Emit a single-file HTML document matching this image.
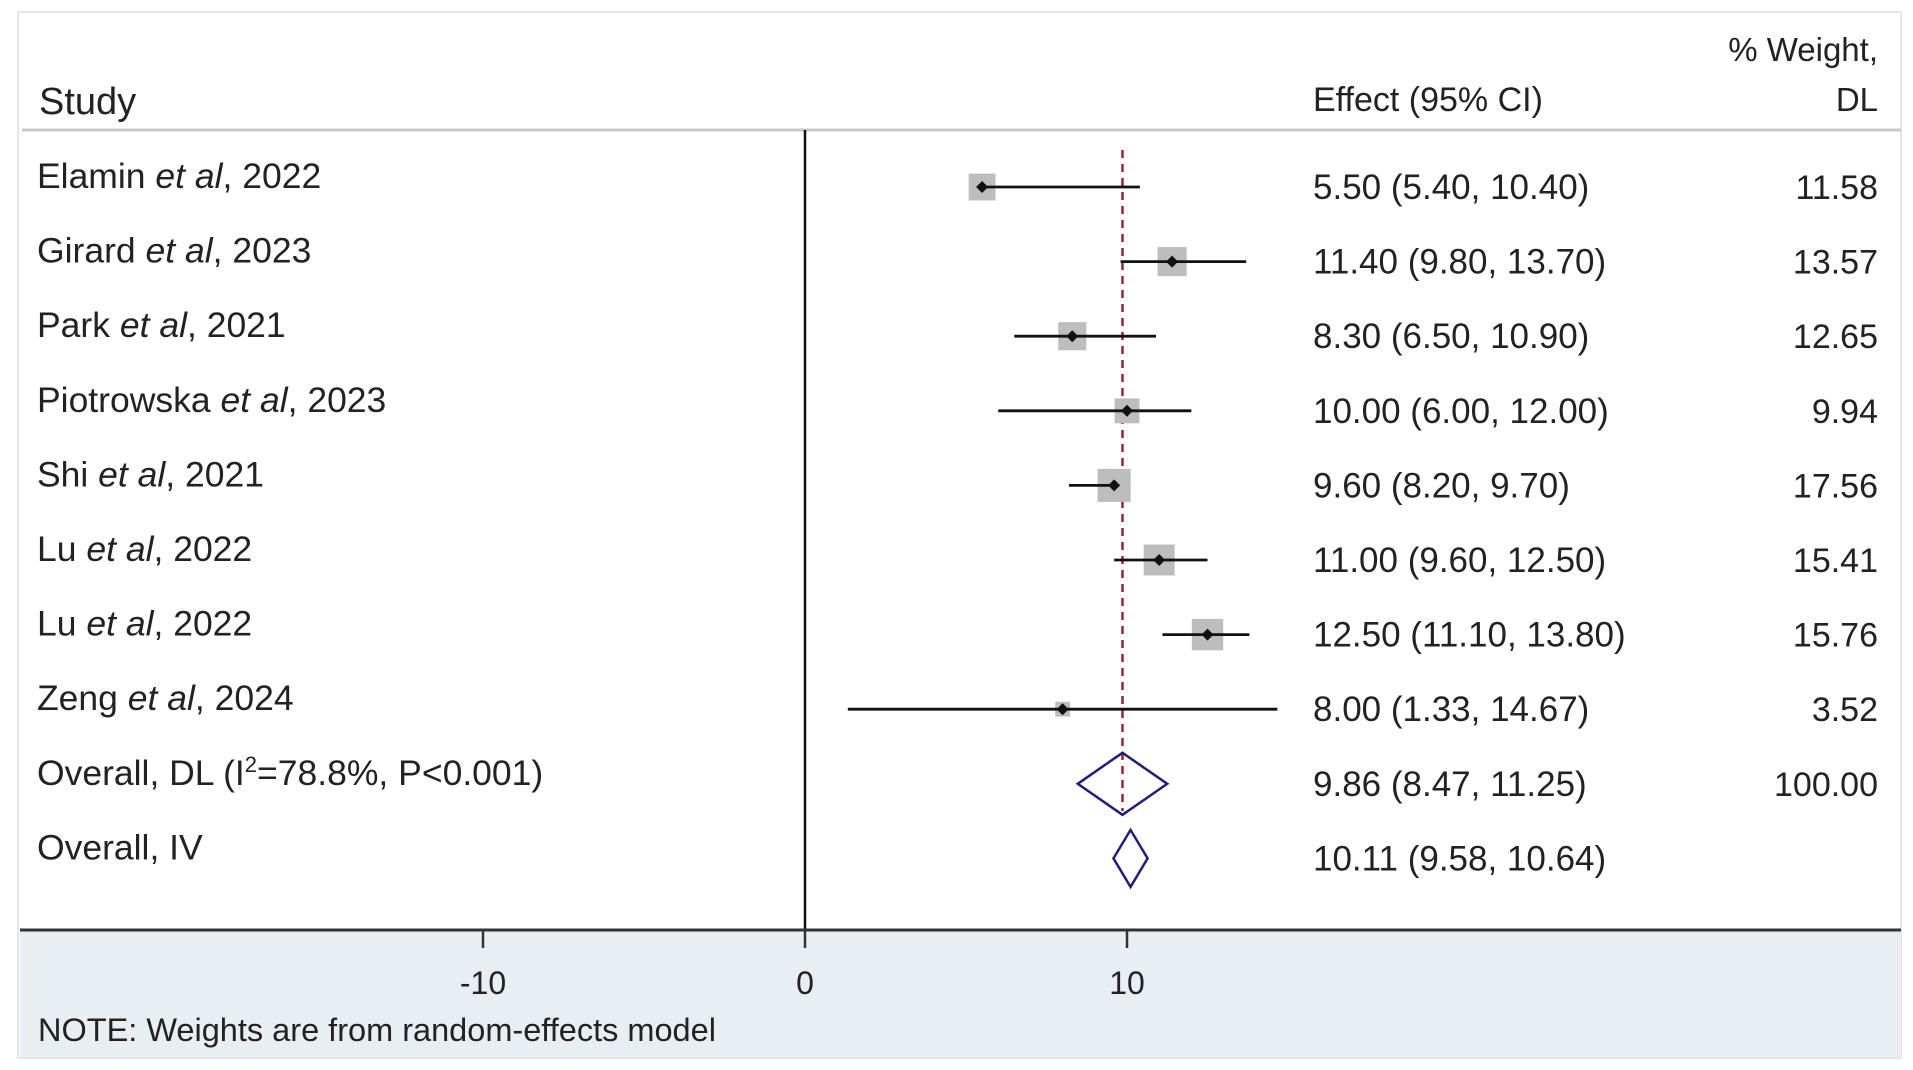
<!DOCTYPE html>
<html><head><meta charset="utf-8"><style>
html,body{margin:0;padding:0;background:#fff;}
svg{display:block;font-family:"Liberation Sans",Arial,sans-serif;}
</style></head><body>
<svg id="chart" width="1913" height="1070" viewBox="0 0 1913 1070">
<rect x="18" y="12" width="1883" height="1046" fill="#fff" stroke="#e3e6e8" stroke-width="2"/>
<rect x="20" y="930" width="1881" height="127" fill="#e9eef2"/>
<line x1="22" y1="130" x2="1901" y2="130" stroke="#c8c8c8" stroke-width="3"/>
<text x="39" y="114" font-size="38" fill="#222">Study</text>
<text x="1313" y="111" font-size="34" fill="#222">Effect (95% CI)</text>
<text x="1878" y="61" font-size="33" fill="#222" text-anchor="end">% Weight,</text>
<text x="1878" y="111" font-size="33" fill="#222" text-anchor="end">DL</text>
<line x1="805" y1="130" x2="805" y2="930" stroke="#111" stroke-width="2.5"/>
<line x1="20" y1="930" x2="1901" y2="930" stroke="#333" stroke-width="3"/>
<text x="38" y="1041" font-size="32.5" fill="#222">NOTE: Weights are from random-effects model</text>
<g id="marks"></g>
</svg>
<script>
const studies=["Elamin","Girard","Park","Piotrowska","Shi","Lu","Lu","Zeng"];
const years=["2022","2023","2021","2023","2021","2022","2022","2024"];
const effects=[5.50,11.40,8.30,10.00,9.60,11.00,12.50,8.00];
const lower=[5.40,9.80,6.50,6.00,8.20,9.60,11.10,1.33];
const upper=[10.40,13.70,10.90,12.00,9.70,12.50,13.80,14.67];
const weights=[11.58,13.57,12.65,9.94,17.56,15.41,15.76,3.52];
const overallDL=[9.86,8.47,11.25];
const overallIV=[10.11,9.58,10.64];
const ticks=[-10,0,10];
const NS="http://www.w3.org/2000/svg";
const g=document.getElementById('marks');
const X=v=>805+v*32.2;
const rowY=i=>187+i*74.6;
function mk(t,a,p){const e=document.createElementNS(NS,t);for(const k in a)e.setAttribute(k,a[k]);(p||g).appendChild(e);return e;}
function f(v){return v.toFixed(2);}
let dl=mk('line',{x1:X(overallDL[0]),x2:X(overallDL[0]),y1:150,y2:811,stroke:'#9b2335','stroke-width':2.5,'stroke-dasharray':'8,6'});


ticks.forEach(t=>{
 let l=mk('line',{x1:X(t),x2:X(t),y1:930,y2:948,stroke:'#333','stroke-width':2.5});
 
 
 let tx=mk('text',{x:X(t),y:994,'font-size':32,fill:'#222','text-anchor':'middle'});
 tx.textContent=t;
 
 
});
studies.forEach((s,i)=>{
 const y=rowY(i);
 let lab=mk('text',{x:37,y:y+1,'font-size':35.5,fill:'#222'});
 lab.innerHTML=s+' <tspan font-style="italic">et al</tspan>, '+years[i];
 
 
 const side=7.9*Math.sqrt(weights[i]);
 let sq=mk('rect',{x:X(effects[i])-side/2,y:y-side/2,width:side,height:side,fill:'#bdbdbd'});
 
 
 let ci=mk('line',{x1:X(lower[i]),x2:X(upper[i]),y1:y,y2:y,stroke:'#111','stroke-width':2.8});
 
 
 let pt=mk('path',{d:`M${X(effects[i])-6},${y}L${X(effects[i])},${y-6}L${X(effects[i])+6},${y}L${X(effects[i])},${y+6}Z`,fill:'#111'});
 
 
 let et=mk('text',{x:1313,y:y+12,'font-size':35,fill:'#222'});
 et.textContent=`${f(effects[i])} (${f(lower[i])}, ${f(upper[i])})`;
 
 
 let wt=mk('text',{x:1878,y:y+12,'font-size':34,fill:'#222','text-anchor':'end'});
 wt.textContent=f(weights[i]);
 
 
});
function diamond(vals,i,h,name){
 const y=rowY(i);
 let d=mk('path',{d:`M${X(vals[1])},${y}L${X(vals[0])},${y-h/2}L${X(vals[2])},${y}L${X(vals[0])},${y+h/2}Z`,fill:'none',stroke:'#1f1f7a','stroke-width':2.5});
 
 
 let et=mk('text',{x:1313,y:y+12,'font-size':35,fill:'#222'});
 et.textContent=`${f(vals[0])} (${f(vals[1])}, ${f(vals[2])})`;
 
 
}
diamond(overallDL,8,62,'overall-dl-diamond');
diamond(overallIV,9,57,'overall-iv-diamond');
let o1=mk('text',{x:37,y:rowY(8)+1,'font-size':35.5,fill:'#222'});
o1.innerHTML='Overall, DL (I<tspan font-size="22" dy="-13">2</tspan><tspan dy="13">=78.8%, P&lt;0.001)</tspan>';


let w1=mk('text',{x:1878,y:rowY(8)+12,'font-size':34,fill:'#222','text-anchor':'end'});
w1.textContent='100.00';


let o2=mk('text',{x:37,y:rowY(9)+1,'font-size':35.5,fill:'#222'});
o2.textContent='Overall, IV';


</script>
</body></html>
